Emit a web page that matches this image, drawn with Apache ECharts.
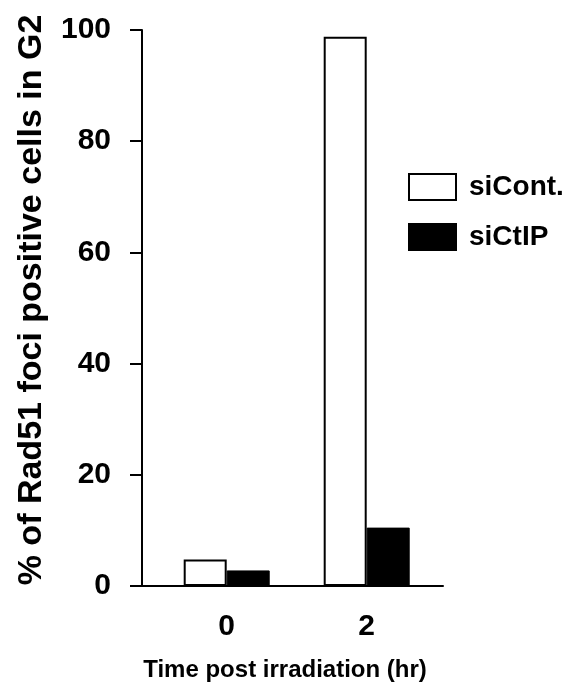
<!DOCTYPE html>
<html>
<head>
<meta charset="utf-8">
<script src="https://cdn.jsdelivr.net/npm/echarts@6/dist/echarts.min.js"></script>
<style>html,body{margin:0;padding:0;background:#fff}#c{width:584px;height:692px}</style>
</head>
<body>
<div id="c"></div>
<script>
var timePoints = [0, 2];
var seriesNames = ['siCont.', 'siCtIP'];
var siCont = [4.75, 98.8];
var siCtIP = [2.8, 10.5];
var yTicks = [0, 20, 40, 60, 80, 100];
var xTitle = 'Time post irradiation (hr)';
var yTitle = '% of Rad51 foci positive cells in G2';

var FONT = 'Liberation Sans, Arial, Helvetica, sans-serif';
function pairs(vals){ return timePoints.map(function(t,i){ return [t, vals[i]]; }); }

var chart = echarts.init(document.getElementById('c'));
chart.setOption({
  animation: false,
  backgroundColor: '#fff',
  grid: { left: 142, right: 141, top: 30, bottom: 106, containLabel: false },
  title: {
    text: xTitle, left: 285, top: 658, textAlign: 'center', padding: 0,
    textStyle: { fontFamily: FONT, fontWeight: 'bold', fontSize: 24, color: '#000' }
  },
  graphic: [{
    type: 'text', x: 32, y: 300, rotation: Math.PI / 2,
    style: { text: yTitle, fontFamily: FONT, fontWeight: 'bold', fontSize: 34, fill: '#000',
             align: 'center', verticalAlign: 'middle' }
  }],
  legend: {
    orient: 'vertical', left: 408, top: 173, padding: 0, itemWidth: 47, itemHeight: 26, itemGap: 22,
    icon: 'rect', data: seriesNames,
    textStyle: { fontFamily: FONT, fontWeight: 'bold', fontSize: 28, color: '#000', padding: [0,0,0,8] }
  },
  xAxis: {
    type: 'value', min: -1.21, max: 3.09,
    axisLine: { show: true, lineStyle: { color: '#000', width: 2 } },
    axisTick: { show: false },
    splitLine: { show: false },
    axisLabel: { customValues: timePoints, margin: 26, fontFamily: FONT, fontWeight: 'bold', fontSize: 30, color: '#000' }
  },
  yAxis: {
    type: 'value', min: 0, max: 100, interval: 20,
    axisLine: { show: true, onZero: false, lineStyle: { color: '#000', width: 2 } },
    axisTick: { show: true, length: 12, lineStyle: { color: '#000', width: 2 } },
    splitLine: { show: false },
    axisLabel: { margin: 31, fontFamily: FONT, fontWeight: 'bold', fontSize: 30, color: '#000',
                 formatter: function(v){ return yTicks.indexOf(v) >= 0 ? String(v) : ''; } }
  },
  series: [
    { name: seriesNames[0], type: 'bar', data: pairs(siCont), barWidth: 43, barGap: '0%',
      itemStyle: { color: '#fff', borderColor: '#000', borderWidth: 2 } },
    { name: seriesNames[1], type: 'bar', data: pairs(siCtIP), barWidth: 43, barGap: '0%',
      itemStyle: { color: '#000', borderColor: '#000', borderWidth: 1 } }
  ]
});
</script>
</body>
</html>
